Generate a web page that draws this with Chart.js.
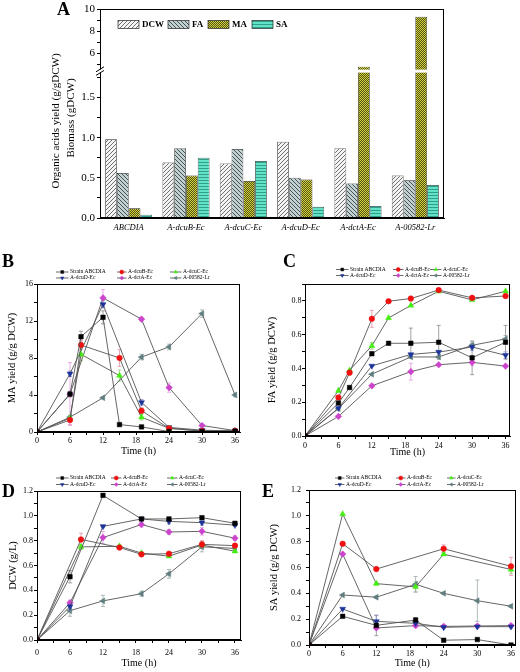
<!DOCTYPE html>
<html>
<head>
<meta charset="utf-8">
<title>Organic acids yield and biomass</title>
<script src="https://cdn.jsdelivr.net/npm/chart.js@4/dist/chart.umd.min.js"></script>
<style>
html, body { margin: 0; padding: 0; background: #fff; }
#fig { position: relative; width: 520px; height: 672px; overflow: hidden; }
#fig canvas { position: absolute; }
.tag { position: absolute; font: bold 18px/18px "Liberation Serif", serif; color: #000; }
.ytitle { position: absolute; white-space: nowrap; color: #000; font: 11px/13px "Liberation Serif", serif;
          transform: translate(-50%, -50%) rotate(-90deg); }
</style>
</head>
<body>
<div id="fig">
  <canvas id="chartA" width="520" height="245" style="left:0px;top:0px"></canvas>
  <canvas id="chartB" width="250" height="200" style="left:0px;top:262px"></canvas>
  <canvas id="chartC" width="260" height="200" style="left:260px;top:262px"></canvas>
  <canvas id="chartD" width="250" height="202" style="left:0px;top:470px"></canvas>
  <canvas id="chartE" width="260" height="202" style="left:260px;top:470px"></canvas>
  <div class="tag" style="left:57px;top:0px">A</div>
  <div class="tag" style="left:2px;top:252px">B</div>
  <div class="tag" style="left:283px;top:252px">C</div>
  <div class="tag" style="left:2px;top:482px">D</div>
  <div class="tag" style="left:262px;top:482px">E</div>
  <div class="ytitle" style="left:55px;top:121px">Organic acids yield (g/gDCW)</div>
  <div class="ytitle" style="left:70px;top:118px">Biomass (gDCW)</div>
</div>
<script>
// ---------- panel A: bars ----------
const strains = ['ABCDIA', 'A-dcuB-Ec', 'A-dcuC-Ec', 'A-dcuD-Ec', 'A-dctA-Ec', 'A-00582-Lr'];
const barNames = ['DCW', 'FA', 'MA', 'SA'];
const dcwBar = [0.98, 0.69, 0.68, 0.95, 0.87, 0.53];
const faBar = [0.56, 0.87, 0.86, 0.50, 0.43, 0.47];
const maBar = [0.12, 0.53, 0.46, 0.48, 4.8, 9.3];
const saBar = [0.04, 0.75, 0.71, 0.14, 0.15, 0.41];

// ---------- panels B-E: time courses ----------
const seriesNames = ['Strain ABCDIA', 'A-dcuB-Ec', 'A-dcuC-Ec', 'A-dcuD-Ec', 'A-dctA-Ec', 'A-00582-Lr'];
const hours = [0, 6, 8, 12, 15, 19, 24, 30, 36];

// B: MA yield (g/g DCW)
const maABCDIA = [0, 4.1, 10.3, 12.4, 0.8, 0.55, 0.05, 0.05, 0.1];
const maDcuB   = [0, 1.3, 9.4, null, 8.0, 2.3, 0.4, 0.1, 0.1];
const maDcuC   = [0, 1.5, 8.4, null, 6.1, 1.6, 0.4, 0.1, 0.1];
const maDcuD   = [0, 6.3, null, 13.8, null, 3.2, 0.5, 0.2, 0.1];
const maDctA   = [0, 4.1, null, 14.5, null, 12.2, 4.8, 0.7, 0.15];
const ma00582  = [0, 1.6, null, 3.7, null, 8.1, 9.2, 12.8, 4.0];
const maErrABCDIA = [0, 0.3, 0.6, 0.7, 0.1, 0.1, 0, 0, 0];
const maErrDcuB   = [0, 0.5, 0.5, null, 0.9, 0.3, 0, 0, 0];
const maErrDcuC   = [0, 0.2, 0.7, null, 0.6, 0.3, 0, 0, 0];
const maErrDcuD   = [0, 0.3, null, 0.4, null, 0.3, 0.1, 0, 0];
const maErrDctA   = [0, 3.4, null, 0.9, null, 0.2, 0.5, 0.1, 0];
const maErr00582  = [0, 0.2, null, 0.1, null, 0.3, 0.3, 0.4, 0.2];

// C: FA yield (g/g DCW)
const faABCDIA = [0, 0.195, 0.287, 0.487, 0.549, 0.549, 0.555, 0.463, 0.555];
const faDcuB   = [0, 0.228, 0.375, 0.694, 0.798, 0.814, 0.864, 0.818, 0.829];
const faDcuC   = [0, 0.268, 0.389, 0.534, 0.699, 0.773, 0.857, 0.806, 0.857];
const faDcuD   = [0, 0.165, null, 0.415, null, 0.483, 0.497, 0.527, 0.478];
const faDctA   = [0, 0.116, null, 0.297, null, 0.381, 0.422, 0.436, 0.414];
const fa00582  = [0, 0.162, null, 0.366, null, 0.468, 0.468, 0.537, 0.575];
const faErrABCDIA = [0, 0, 0, 0.01, 0, 0.09, 0.1, 0.1, 0.1];
const faErrDcuB   = [0, 0, 0, 0.05, 0, 0, 0, 0, 0];
const faErrDcuC   = [0, 0, 0, 0.02, 0, 0, 0, 0, 0];
const faErrDcuD   = [0, 0, null, 0, null, 0, 0, 0.02, 0.02];
const faErrDctA   = [0, 0, null, 0, null, 0.05, 0, 0.02, 0];
const faErr00582  = [0, 0, null, 0, null, 0, 0.01, 0.02, 0.02];

// D: DCW (g/L)
const dcwABCDIA = [0, 0.51, null, 1.165, null, 0.975, 0.975, 0.985, 0.94];
const dcwDcuB   = [0, null, 0.81, null, 0.745, 0.69, 0.695, 0.77, 0.76];
const dcwDcuC   = [0, null, 0.75, null, 0.755, 0.70, 0.675, 0.765, 0.715];
const dcwDcuD   = [0, 0.27, null, 0.915, null, 0.975, 0.955, 0.945, 0.925];
const dcwDctA   = [0, 0.30, null, 0.825, null, 0.93, 0.87, 0.875, 0.82];
const dcw00582  = [0, 0.236, null, 0.315, null, 0.373, 0.533, 0.75, 0.738];
const dcwErrABCDIA = [0, 0.05, null, 0.01, null, 0.01, 0.01, 0.01, 0.01];
const dcwErrDcuB   = [0, null, 0.05, null, 0.01, 0.01, 0.01, 0.03, 0.01];
const dcwErrDcuC   = [0, null, 0.02, null, 0.01, 0.01, 0.01, 0.02, 0.01];
const dcwErrDcuD   = [0, 0.01, null, 0.01, null, 0.01, 0.02, 0.02, 0.01];
const dcwErrDctA   = [0, 0.02, null, 0.05, null, 0.02, 0.02, 0.03, 0.02];
const dcwErr00582  = [0, 0.045, null, 0.045, null, 0.02, 0.035, 0.04, 0.02];

// E: SA yield (g/g DCW)
const saABCDIA = [0, 0.222, null, 0.152, null, 0.193, 0.037, 0.042, 0.0];
const saDcuB   = [0, 0.784, null, 0.588, null, null, 0.745, null, 0.609];
const saDcuC   = [0, 1.014, null, 0.475, null, 0.45, 0.703, null, 0.585];
const saDcuD   = [0, 0.279, null, 0.183, null, 0.168, 0.137, 0.142, 0.142];
const saDctA   = [0, 0.704, null, 0.132, null, 0.15, 0.144, 0.147, 0.15];
const sa00582  = [0, 0.387, null, 0.37, null, 0.47, 0.40, 0.343, 0.30];
const saErrABCDIA = [0, 0, null, 0.08, null, 0.02, 0, 0, 0];
const saErrDcuB   = [0, 0, null, 0.01, null, null, 0.03, null, 0.07];
const saErrDcuC   = [0, 0, null, 0.01, null, 0.04, 0.01, null, 0.03];
const saErrDcuD   = [0, 0, null, 0.045, null, 0.01, 0.01, 0.01, 0.01];
const saErrDctA   = [0, 0, null, 0.01, null, 0.01, 0.01, 0.01, 0.01];
const saErr00582  = [0, 0, null, 0.01, null, 0.06, 0.01, 0.16, 0.01];

// ---------- styles ----------
const markerColors = ['#000000', '#f01010', '#44ee11', '#1c3399', '#cc44cc', '#607e80'];
const errColors = ['#8a8a8a', '#e58fa6', '#9acc80', '#8894c4', '#e09ae0', '#9aaaaa'];
const markerStyles = ['rect', 'circle', 'triangle', 'triangle', 'rectRot', 'triangle'];
const markerRotation = [0, 0, 0, 180, 0, -90];
const markerRadius = [3.2, 2.8, 3.4, 3.4, 3.3, 3.4];

Chart.defaults.font.family = '"Liberation Serif", "Times New Roman", serif';
Chart.defaults.color = '#000';
Chart.defaults.animation = false;
Chart.defaults.plugins.legend.display = false;
Chart.defaults.plugins.tooltip.enabled = false;

function makePattern(size, bg, paint) {
  const c = document.createElement('canvas');
  c.width = size; c.height = size;
  const g = c.getContext('2d');
  g.fillStyle = bg;
  g.fillRect(0, 0, size, size);
  paint(g, size);
  return g.createPattern(c, 'repeat');
}
const patDCW = makePattern(4, '#f4f4f4', (g, s) => {
  g.strokeStyle = '#707070'; g.lineWidth = 1;
  g.beginPath();
  g.moveTo(0, s); g.lineTo(s, 0);
  g.moveTo(-1, 1); g.lineTo(1, -1);
  g.moveTo(s - 1, s + 1); g.lineTo(s + 1, s - 1);
  g.stroke();
});
const patFA = makePattern(4, '#c4d0d0', (g, s) => {
  g.strokeStyle = '#3e5458'; g.lineWidth = 1;
  g.beginPath();
  g.moveTo(0, 0); g.lineTo(s, s);
  g.moveTo(-1, s - 1); g.lineTo(1, s + 1);
  g.moveTo(s - 1, -1); g.lineTo(s + 1, 1);
  g.stroke();
});
const patMA = makePattern(2, '#d6d63c', (g) => {
  g.fillStyle = '#4f4f16';
  g.fillRect(1, 0, 1, 1);
  g.fillRect(0, 1, 1, 1);
});
const patSA = makePattern(3, '#62e2c6', (g, s) => {
  g.fillStyle = '#2f9e8a';
  g.fillRect(0, 0, s, 1);
});

function drawMarker(ctx, k, x, y, r) {
  ctx.fillStyle = markerColors[k];
  ctx.strokeStyle = markerColors[k];
  ctx.lineWidth = 0.5;
  if (Chart.helpers && Chart.helpers.drawPoint) {
    Chart.helpers.drawPoint(ctx, {pointStyle: markerStyles[k], rotation: markerRotation[k], radius: r, borderWidth: 0.5}, x, y);
  } else {
    ctx.fillRect(x - r * 0.7, y - r * 0.7, r * 1.4, r * 1.4);
  }
}

// ---------- plugins ----------
const frame = {
  id: 'frame',
  afterDatasetsDraw(chart) {
    const {ctx, chartArea: a} = chart;
    ctx.save();
    ctx.strokeStyle = '#000';
    ctx.lineWidth = 1;
    const l = Math.round(a.left), t = Math.round(a.top);
    ctx.strokeRect(l + 0.5, t + 0.5, Math.round(a.right) - l - 1, Math.round(a.bottom) - t - 1);
    ctx.restore();
  }
};

const errorBars = {
  id: 'errorBars',
  beforeDatasetsDraw(chart) {
    const {ctx} = chart;
    const ys = chart.scales.y;
    chart.data.datasets.forEach((ds, i) => {
      const meta = chart.getDatasetMeta(i);
      ctx.save();
      ctx.strokeStyle = ds.errColor;
      ctx.lineWidth = 0.8;
      ctx.beginPath();
      meta.data.forEach((pt, j) => {
        const e = ds.errors[j];
        if (!e) return;
        const v = ds.data[j].y;
        const y1 = ys.getPixelForValue(v + e);
        const y2 = ys.getPixelForValue(v - e);
        ctx.moveTo(pt.x, y1); ctx.lineTo(pt.x, y2);
        ctx.moveTo(pt.x - 2, y1); ctx.lineTo(pt.x + 2, y1);
        ctx.moveTo(pt.x - 2, y2); ctx.lineTo(pt.x + 2, y2);
      });
      ctx.stroke();
      ctx.restore();
    });
  }
};

function lineLegend(cols, rows) {
  return {
    id: 'lineLegend',
    afterDraw(chart) {
      const ctx = chart.ctx;
      ctx.save();
      ctx.font = '5.5px "Liberation Serif", serif';
      ctx.textBaseline = 'middle';
      ctx.textAlign = 'left';
      chart.data.datasets.forEach((ds, k) => {
        const c = cols[k % 3];
        const y = rows[Math.floor(k / 3)];
        ctx.strokeStyle = '#444';
        ctx.lineWidth = 0.8;
        ctx.beginPath();
        ctx.moveTo(c[0], y);
        ctx.lineTo(c[1] - 1.5, y);
        ctx.stroke();
        drawMarker(ctx, k, (c[0] + c[1] - 1.5) / 2, y, 2);
        ctx.fillStyle = '#000';
        ctx.fillText(ds.label, c[1], y);
      });
      ctx.restore();
    }
  };
}

function buildSeries(values, errors) {
  return seriesNames.map((name, k) => {
    const pts = [];
    const errs = [];
    hours.forEach((h, i) => {
      if (values[k][i] === null) return;
      pts.push({x: h, y: values[k][i]});
      errs.push(errors[k][i] || 0);
    });
    return {
      label: name,
      data: pts,
      errors: errs,
      errColor: errColors[k],
      borderColor: '#555',
      borderWidth: 0.9,
      tension: 0,
      fill: false,
      pointStyle: markerStyles[k],
      pointRotation: markerRotation[k],
      pointRadius: markerRadius[k],
      pointBackgroundColor: markerColors[k],
      pointBorderColor: markerColors[k],
      pointBorderWidth: 0.5
    };
  });
}

const tenthLabel = v => {
  const k = Math.round(v * 10);
  return k % 2 === 0 ? (k / 10).toFixed(1) : '';
};

function makeLineChart(id, o) {
  return new Chart(document.getElementById(id), {
    type: 'line',
    data: {datasets: buildSeries(o.values, o.errors)},
    options: {
      responsive: false,
      layout: {padding: {left: 0, top: o.top, right: o.right, bottom: 0}},
      scales: {
        x: {
          type: 'linear', min: 0, max: o.xMax,
          grid: {display: true, drawOnChartArea: false, tickLength: 3, color: '#000'},
          border: {color: '#000', width: 1},
          ticks: {stepSize: 3, maxTicksLimit: 100, includeBounds: false, autoSkip: false, maxRotation: 0,
                  padding: o.xPad, font: {size: 8}, color: '#000',
                  callback: v => v % 6 === 0 ? String(v) : ''},
          title: {display: true, text: 'Time (h)', font: {size: 10}, color: '#000',
                  padding: {top: 0, bottom: o.xTitlePad}},
          afterFit: s => { s.height = o.xHeight; s.paddingLeft = 0; s.paddingRight = 0; }
        },
        y: {
          type: 'linear', min: 0, max: o.yMax,
          grid: {display: true, drawOnChartArea: false, tickLength: 3, color: '#000'},
          border: {color: '#000', width: 1},
          ticks: {stepSize: o.yStep, maxTicksLimit: 100, includeBounds: false, autoSkip: false,
                  padding: o.yPad, font: {size: 8}, color: '#000', callback: o.yLabel},
          title: {display: true, text: o.yTitle, font: {size: 10.5}, color: '#000',
                  padding: {top: o.yTitlePad, bottom: 0}},
          afterFit: s => { s.width = o.yWidth; s.paddingTop = 0; s.paddingBottom = 0; }
        }
      }
    },
    plugins: [errorBars, frame, lineLegend(o.cols, o.rows)]
  });
}

// ---------- panel A ----------
const highMin = 4.4;
const lowMax = 1.83;
const barPatterns = [patDCW, patFA, patMA, patSA];
const barValues = [dcwBar, faBar, maBar, saBar];
const datasetsA = barValues.map((vals, k) => ({
  label: barNames[k],
  data: vals.map(v => Math.min(v, lowMax)),
  yAxisID: 'yLow',
  stack: barNames[k],
  backgroundColor: barPatterns[k],
  borderColor: '#222',
  borderWidth: 0.7
}));
datasetsA.push({
  label: 'MA',
  data: maBar.map(v => v > highMin ? v : null),
  yAxisID: 'yHigh',
  stack: 'MA',
  base: highMin,
  backgroundColor: patMA,
  borderColor: '#222',
  borderWidth: 0.7
});

const legendAX = [118, 168, 208, 252];
const legendA = {
  id: 'legendA',
  afterDraw(chart) {
    const ctx = chart.ctx;
    ctx.save();
    ctx.font = 'bold 9px "Liberation Serif", serif';
    ctx.textBaseline = 'middle';
    barNames.forEach((name, k) => {
      const ds = chart.data.datasets[k];
      const x = legendAX[k];
      ctx.fillStyle = ds.backgroundColor;
      ctx.fillRect(x, 20.5, 21, 8);
      ctx.strokeStyle = '#222';
      ctx.lineWidth = 0.7;
      ctx.strokeRect(x, 20.5, 21, 8);
      ctx.fillStyle = '#000';
      ctx.fillText(ds.label, x + 24, 25);
    });
    ctx.restore();
  }
};

const axisBreak = {
  id: 'axisBreak',
  afterDraw(chart) {
    const {ctx, chartArea: a} = chart;
    const yb = chart.scales.yHigh.bottom;
    ctx.save();
    ctx.fillStyle = '#fff';
    ctx.fillRect(a.left - 5, yb - 1.5, a.right - a.left + 4, 3);
    ctx.strokeStyle = '#000';
    ctx.lineWidth = 1;
    ctx.beginPath();
    [-1.8, 1.8].forEach(d => {
      ctx.moveTo(a.left - 4, yb + d + 2.5);
      ctx.lineTo(a.left + 4, yb + d - 2.5);
    });
    ctx.stroke();
    ctx.restore();
  }
};

const yTickGrid = {display: true, drawOnChartArea: false, tickLength: 3, color: '#000'};

new Chart(document.getElementById('chartA'), {
  type: 'bar',
  data: {labels: strains, datasets: datasetsA},
  options: {
    responsive: false,
    layout: {padding: {left: 0, top: 9, right: 76, bottom: 0}},
    datasets: {bar: {barPercentage: 1, categoryPercentage: 0.82}},
    scales: {
      x: {
        type: 'category',
        grid: {display: false, drawTicks: false},
        border: {display: true, color: '#000'},
        ticks: {font: {size: 8.5, style: 'italic'}, padding: 5, maxRotation: 0, autoSkip: false, color: '#000'},
        afterFit: s => { s.height = 27; s.paddingLeft = 0; s.paddingRight = 0; }
      },
      yLow: {
        type: 'linear', position: 'left', stack: 'ya', stackWeight: 147.1, weight: 0,
        min: 0, max: lowMax, stacked: false,
        grid: yTickGrid,
        border: {color: '#000'},
        ticks: {stepSize: 0.25, maxTicksLimit: 100, includeBounds: false, autoSkip: false, padding: 2,
                font: {size: 11}, color: '#000',
                callback: v => Math.round(v * 4) % 2 === 0 ? v.toFixed(1) : ''},
        afterFit: s => { s.width = 100; s.paddingTop = 0; s.paddingBottom = 0; }
      },
      yHigh: {
        type: 'linear', position: 'left', stack: 'ya', stackWeight: 62.2, weight: 1,
        min: highMin, max: 10, stacked: false,
        grid: yTickGrid,
        border: {color: '#000'},
        ticks: {stepSize: 1, maxTicksLimit: 100, includeBounds: false, autoSkip: false, padding: 2,
                font: {size: 11}, color: '#000',
                callback: v => v % 2 === 0 ? String(v) : ''},
        afterFit: s => { s.width = 100; s.paddingTop = 0; s.paddingBottom = 0; }
      }
    }
  },
  plugins: [frame, legendA, axisBreak]
});

// ---------- panels B-E ----------
makeLineChart('chartB', {
  values: [maABCDIA, maDcuB, maDcuC, maDcuD, maDctA, ma00582],
  errors: [maErrABCDIA, maErrDcuB, maErrDcuC, maErrDcuD, maErrDctA, maErr00582],
  top: 22, right: 10, xMax: 36.9, xHeight: 30, xPad: 1, xTitlePad: 5,
  yMax: 16, yStep: 2, yWidth: 37, yPad: 1, yTitlePad: 5.7,
  yLabel: v => v % 4 === 0 ? String(v) : '',
  yTitle: 'MA yield (g/g DCW)',
  cols: [[56, 70], [117, 128], [170, 183]], rows: [10, 16]
});

makeLineChart('chartC', {
  values: [faABCDIA, faDcuB, faDcuC, faDcuD, faDctA, fa00582],
  errors: [faErrABCDIA, faErrDcuB, faErrDcuC, faErrDcuD, faErrDctA, faErr00582],
  top: 22, right: 10, xMax: 36.8, xHeight: 26, xPad: 2, xTitlePad: 4,
  yMax: 0.9, yStep: 0.1, yWidth: 45, yPad: 0.5, yTitlePad: 6.2,
  yLabel: tenthLabel,
  yTitle: 'FA yield (g/g DCW)',
  cols: [[76, 90], [133, 145], [170, 183]], rows: [7.5, 13.5]
});

makeLineChart('chartD', {
  values: [dcwABCDIA, dcwDcuB, dcwDcuC, dcwDcuD, dcwDctA, dcw00582],
  errors: [dcwErrABCDIA, dcwErrDcuB, dcwErrDcuC, dcwErrDcuD, dcwErrDctA, dcwErr00582],
  top: 21, right: 9, xMax: 37.1, xHeight: 32, xPad: 5, xTitlePad: 3,
  yMax: 1.2, yStep: 0.1, yWidth: 37, yPad: 1, yTitlePad: 6.7,
  yLabel: tenthLabel,
  yTitle: 'DCW (g/L)',
  cols: [[56, 70], [111, 123], [167, 179]], rows: [8, 14.5]
});

makeLineChart('chartE', {
  values: [saABCDIA, saDcuB, saDcuC, saDcuD, saDctA, sa00582],
  errors: [saErrABCDIA, saErrDcuB, saErrDcuC, saErrDcuD, saErrDctA, saErr00582],
  top: 20, right: 2, xMax: 36.8, xHeight: 27, xPad: 1, xTitlePad: 3,
  yMax: 1.2, yStep: 0.1, yWidth: 49, yPad: 5, yTitlePad: 7.7,
  yLabel: tenthLabel,
  yTitle: 'SA yield (g/g DCW)',
  cols: [[75, 86], [136, 147], [187, 197]], rows: [8, 14.5]
});
</script>
</body>
</html>
